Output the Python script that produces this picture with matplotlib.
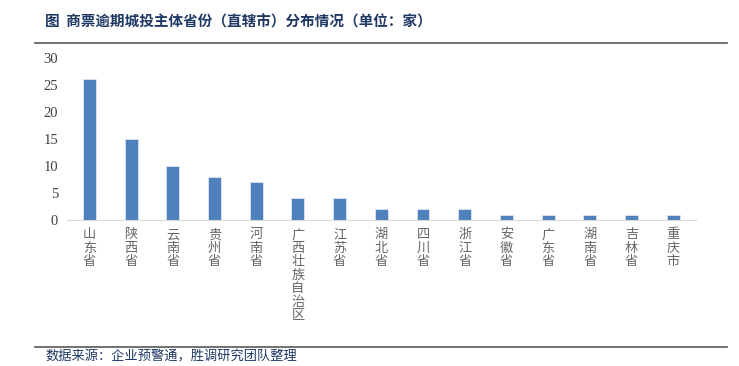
import matplotlib
matplotlib.use('Agg')
import matplotlib.pyplot as plt
from matplotlib.lines import Line2D

plt.rcParams['font.family'] = ['Noto Sans CJK SC', 'DejaVu Sans']

provinces = ['山东省', '陕西省', '云南省', '贵州省', '河南省', '广西壮族自治区', '江苏省',
             '湖北省', '四川省', '浙江省', '安徽省', '广东省', '湖南省', '吉林省', '重庆市']
counts = [26, 15, 10, 8, 7, 4, 4, 2, 2, 2, 1, 1, 1, 1, 1]
yticks = [0, 5, 10, 15, 20, 25, 30]

title = '图  商票逾期城投主体省份（直辖市）分布情况（单位：家）'
source = '数据来源：企业预警通，胜调研究团队整理'

fig = plt.figure(figsize=(7.39, 3.66), dpi=100)
ax = fig.add_axes([0.09, 0.399, 0.852, 0.443])

x = range(len(provinces))
ax.bar(x, counts, width=0.31, color='#4f81bd', edgecolor='#dce6f2', linewidth=0.6)
ax.set_ylim(0, 30)
ax.set_xlim(-0.55, len(provinces) - 0.45)
ax.set_yticks(yticks)
ax.set_yticklabels([str(v) for v in yticks], family='Liberation Serif', fontsize=10.5, color='#404040')
ax.set_xticks(list(x))
ax.set_xticklabels(['\n'.join(p) for p in provinces], fontsize=9.5, color='#666666',
                   linespacing=1.05, va='top')
ax.tick_params(axis='both', length=0, pad=6)
ax.tick_params(axis='x', pad=6)
for s in ['top', 'right', 'left']:
    ax.spines[s].set_visible(False)
ax.spines['bottom'].set_color('#d9d9d9')

fig.text(0.061, 0.94, title, fontsize=10.5, color='#1f3864', weight='bold', va='center')
fig.add_artist(Line2D([0.047, 0.984], [0.882, 0.882], color='#595959', lw=1.2))
fig.add_artist(Line2D([0.047, 0.984], [0.052, 0.052], color='#595959', lw=1.2))
fig.text(0.062, 0.006, source, fontsize=9.5, color='#1f3864', va='bottom')

fig.savefig('out.png', dpi=100)
